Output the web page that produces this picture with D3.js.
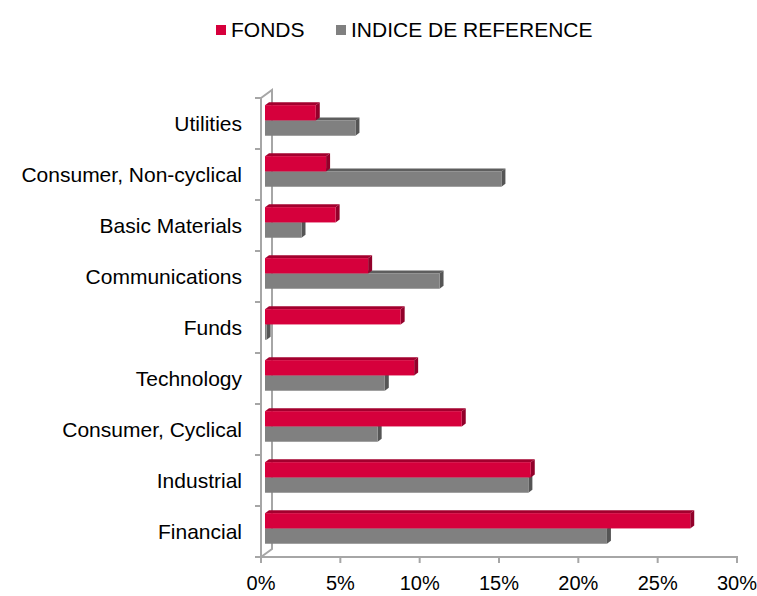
<!DOCTYPE html>
<html>
<head>
<meta charset="utf-8">
<script src="https://cdn.jsdelivr.net/npm/d3@7"></script>
<style>
  body { margin: 0; background: #fff; }
  text { font-family: "Liberation Sans", Arial, sans-serif; fill: #000; }
</style>
</head>
<body>
<div id="chart"></div>
<script>
// Basic settings
const canvasWidth = 757;
const canvasHeight = 596;

// Data (top to bottom as shown)
const categories = ["Utilities", "Consumer, Non-cyclical", "Basic Materials", "Communications",
  "Funds", "Technology", "Consumer, Cyclical", "Industrial", "Financial"];
const fonds = [3.2, 3.85, 4.45, 6.5, 8.55, 9.4, 12.4, 16.75, 26.8];
const indice = [5.7, 14.9, 2.3, 11.0, 0.1, 7.55, 7.1, 16.6, 21.55];
const seriesNames = ["FONDS", "INDICE DE REFERENCE"];
const xTicks = [0, 5, 10, 15, 20, 25, 30];

const colors = {
  red: { front: "#d6003c", top: "#a3002e", side: "#92002a" },
  gray: { front: "#808080", top: "#5e5e5e", side: "#555555" }
};

const svg = d3.select("#chart")
  .append("svg")
  .attr("width", canvasWidth)
  .attr("height", canvasHeight);

// Scales
const x = d3.scaleLinear().domain([0, 30]).range([261, 737]);
const y = d3.scaleBand().domain(categories).range([98, 557]);
const bw = y.bandwidth();
const barH = bw * 0.3;
const dx = 4, dy = 3;      // bar depth
const shift = 4;           // bars sit a bit behind the front plane

// Back wall + side edges
const axisColor = "#a6a6a6";
svg.append("path")
  .attr("d", "M261,98 L272,90 L272,549 L261,557")
  .attr("fill", "none")
  .attr("stroke", axisColor)
  .attr("stroke-width", 2);

// Front category axis
svg.append("line")
  .attr("x1", 261).attr("x2", 261).attr("y1", 98).attr("y2", 557)
  .attr("stroke", axisColor).attr("stroke-width", 2);
const catTicks = categories.map(c => y(c)).concat([y.range()[1]]);
svg.selectAll(".ctick").data(catTicks).enter().append("line")
  .attr("x1", 255).attr("x2", 261)
  .attr("y1", d => d).attr("y2", d => d)
  .attr("stroke", axisColor).attr("stroke-width", 2);

// Value axis
svg.append("line")
  .attr("x1", 261).attr("x2", 738).attr("y1", 557).attr("y2", 557)
  .attr("stroke", axisColor).attr("stroke-width", 2);
svg.selectAll(".xtick").data(xTicks).enter().append("line")
  .attr("x1", d => x(d)).attr("x2", d => x(d))
  .attr("y1", 557).attr("y2", 563)
  .attr("stroke", axisColor).attr("stroke-width", 2);
svg.selectAll(".xlabel").data(xTicks).enter().append("text")
  .attr("x", d => x(d)).attr("y", 590)
  .attr("text-anchor", "middle")
  .style("font-size", "20px")
  .text(d => d + "%");

// Category labels
svg.selectAll(".clabel").data(categories).enter().append("text")
  .attr("x", 242).attr("y", d => y(d) + bw / 2)
  .attr("dy", "0.35em")
  .attr("text-anchor", "end")
  .style("font-size", "21px")
  .text(d => d);

// 3D bar
function drawBar(v, top, col) {
  const x0 = x(0) + shift, x1 = x(v) + shift;
  const y0 = top, y1 = top + barH;
  const g = svg.append("g");
  g.append("polygon")
    .attr("points", [[x0, y0], [x0 + dx, y0 - dy], [x1 + dx, y0 - dy], [x1, y0]].join(" "))
    .attr("fill", col.top);
  g.append("polygon")
    .attr("points", [[x1, y0], [x1 + dx, y0 - dy], [x1 + dx, y1 - dy], [x1, y1]].join(" "))
    .attr("fill", col.side);
  g.append("rect")
    .attr("x", x0).attr("y", y0)
    .attr("width", x1 - x0).attr("height", y1 - y0)
    .attr("fill", col.front);
}

categories.forEach((c, i) => {
  const redTop = y(c) + bw * 0.14;
  drawBar(indice[i], redTop + barH, colors.gray);
  drawBar(fonds[i], redTop, colors.red);
});

// Legend
const legend = [
  { name: seriesNames[0], color: colors.red.front, x: 216, tx: 231 },
  { name: seriesNames[1], color: colors.gray.front, x: 336, tx: 351 }
];
legend.forEach(l => {
  svg.append("rect")
    .attr("x", l.x).attr("y", 25).attr("width", 10).attr("height", 10)
    .attr("fill", l.color);
  svg.append("text")
    .attr("x", l.tx).attr("y", 37)
    .style("font-size", "21px")
    .text(l.name);
});
</script>
</body>
</html>
